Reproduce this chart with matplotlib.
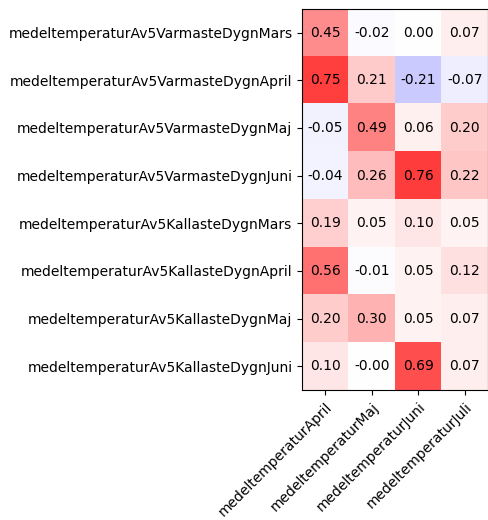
import numpy as np
import matplotlib.pyplot as plt

row_labels = ['medeltemperaturAv5VarmasteDygnMars', 'medeltemperaturAv5VarmasteDygnApril',
              'medeltemperaturAv5VarmasteDygnMaj', 'medeltemperaturAv5VarmasteDygnJuni',
              'medeltemperaturAv5KallasteDygnMars', 'medeltemperaturAv5KallasteDygnApril',
              'medeltemperaturAv5KallasteDygnMaj', 'medeltemperaturAv5KallasteDygnJuni']
col_labels = ['medeltemperaturApril', 'medeltemperaturMaj', 'medeltemperaturJuni', 'medeltemperaturJuli']

corr = np.array([
    [0.45, -0.02, 0.00, 0.07],
    [0.75, 0.21, -0.21, -0.07],
    [-0.05, 0.49, 0.06, 0.20],
    [-0.04, 0.26, 0.76, 0.22],
    [0.19, 0.05, 0.10, 0.05],
    [0.56, -0.01, 0.05, 0.12],
    [0.20, 0.30, 0.05, 0.07],
    [0.10, -0.00, 0.69, 0.07],
])

fig = plt.figure(figsize=(4.89, 5.2), dpi=100)
ax = fig.add_axes([0.618, 0.25, 0.38, 0.733])
ax.imshow(corr, cmap='bwr', vmin=-1, vmax=1, aspect='auto')

for i in range(corr.shape[0]):
    for j in range(corr.shape[1]):
        ax.text(j, i, f'{corr[i, j]:.2f}', ha='center', va='center', color='black', fontsize=10)

ax.set_xticks(range(len(col_labels)))
ax.set_xticklabels(col_labels, rotation=45, ha='right', rotation_mode='anchor')
ax.set_yticks(range(len(row_labels)))
ax.set_yticklabels(row_labels)

plt.savefig('out.png', dpi=100)
